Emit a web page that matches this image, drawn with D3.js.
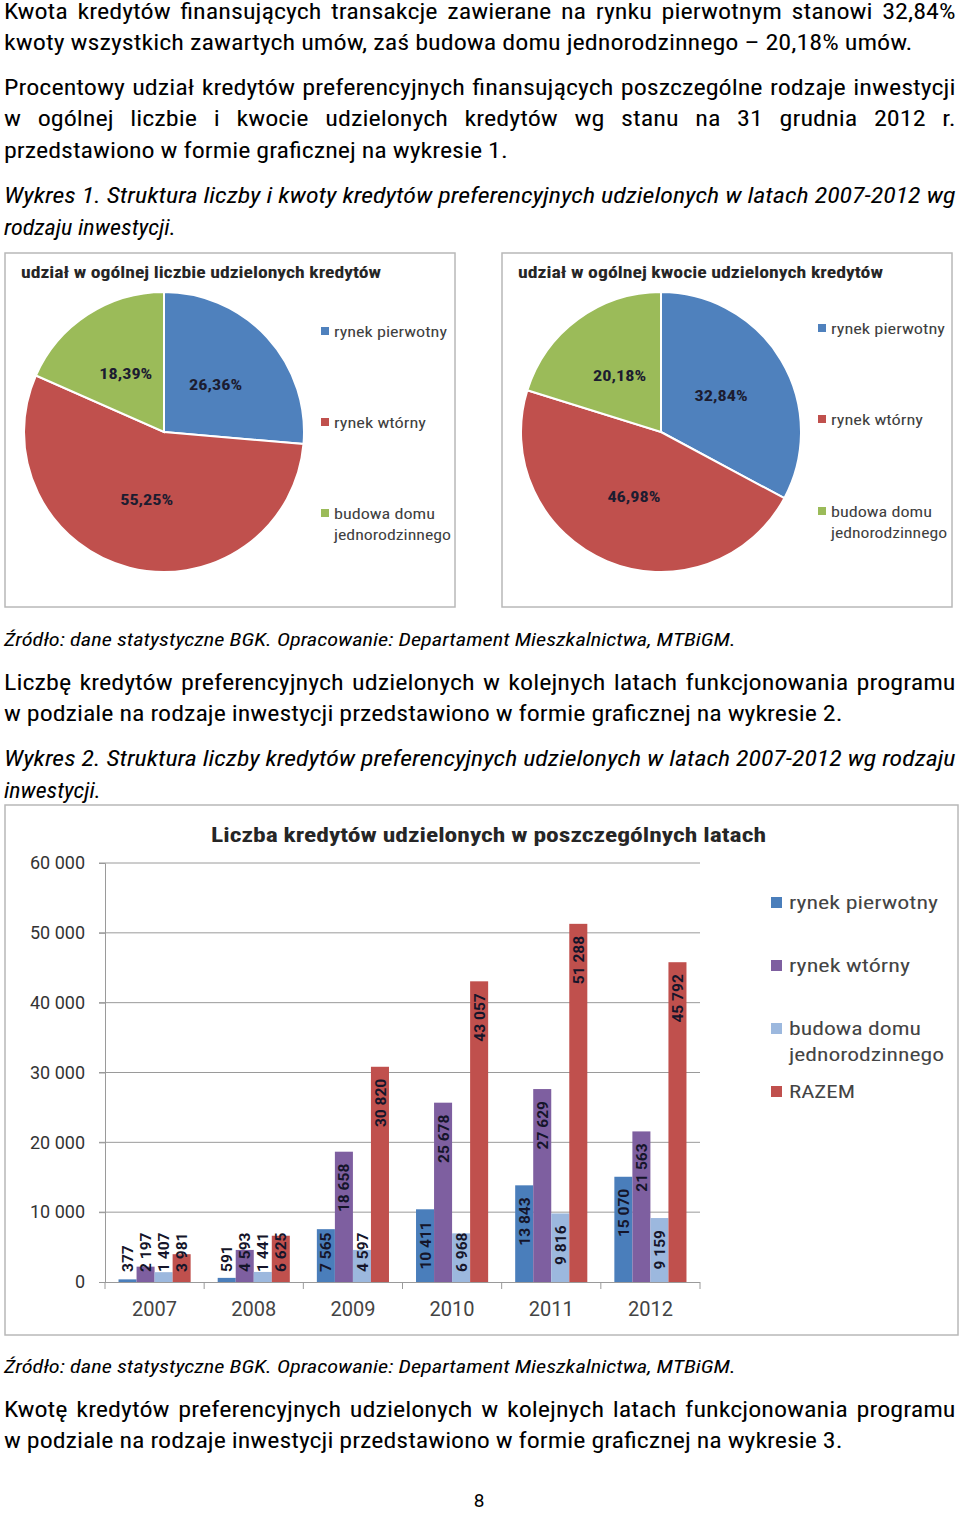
<!DOCTYPE html>
<html><head><meta charset="utf-8">
<script src="https://cdn.jsdelivr.net/npm/d3@7/dist/d3.min.js"></script>
<style>
body{margin:0;background:#fff;}
svg text{font-family:"Liberation Sans Narrow","Roboto Condensed",Roboto,"Noto Sans",sans-serif;}
</style></head>
<body>
<svg id="page" width="960" height="1513"></svg>
<script>
// ---------- DATA ----------
const pieCategories = ["rynek pierwotny", "rynek wtórny", "budowa domu jednorodzinnego"];
const pieCountShares = [26.36, 55.25, 18.39];
const pieAmountShares = [32.84, 46.98, 20.18];
const pieTitles = ["udział w ogólnej liczbie udzielonych kredytów", "udział w ogólnej kwocie udzielonych kredytów"];

const years = ["2007", "2008", "2009", "2010", "2011", "2012"];
const barSeries = ["rynek pierwotny", "rynek wtórny", "budowa domu jednorodzinnego", "RAZEM"];
const primaryMarket = [377, 591, 7565, 10411, 13843, 15070];
const secondaryMarket = [2197, 4593, 18658, 25678, 27629, 21563];
const houseBuilding = [1407, 1441, 4597, 6968, 9816, 9159];
const totalCount = [3981, 6625, 30820, 43057, 51288, 45792];
const yTicks = [0, 10000, 20000, 30000, 40000, 50000, 60000];
const barTitle = "Liczba kredytów udzielonych w poszczególnych latach";

const paragraphs = [
  ["Kwota kredytów finansujących transakcje zawierane na rynku pierwotnym stanowi 32,84%",
   "kwoty wszystkich zawartych umów, zaś budowa domu jednorodzinnego – 20,18% umów."],
  ["Procentowy udział kredytów preferencyjnych finansujących poszczególne rodzaje inwestycji",
   "w ogólnej liczbie i kwocie udzielonych kredytów wg stanu na 31 grudnia 2012 r.",
   "przedstawiono w formie graficznej na wykresie 1."],
  ["Wykres 1. Struktura liczby i kwoty kredytów preferencyjnych udzielonych w latach 2007-2012 wg",
   "rodzaju inwestycji."],
  ["Źródło: dane statystyczne BGK. Opracowanie: Departament Mieszkalnictwa, MTBiGM."],
  ["Liczbę kredytów preferencyjnych udzielonych w kolejnych latach funkcjonowania programu",
   "w podziale na rodzaje inwestycji przedstawiono w formie graficznej na wykresie 2."],
  ["Wykres 2. Struktura liczby kredytów preferencyjnych udzielonych w latach 2007-2012 wg rodzaju",
   "inwestycji."],
  ["Źródło: dane statystyczne BGK. Opracowanie: Departament Mieszkalnictwa, MTBiGM."],
  ["Kwotę kredytów preferencyjnych udzielonych w kolejnych latach funkcjonowania programu",
   "w podziale na rodzaje inwestycji przedstawiono w formie graficznej na wykresie 3."]
];
const pageNumber = "8";

// ---------- LAYOUT ----------
const svg = d3.select("#page");
const loc = d3.formatLocale({decimal:",", thousands:"\u00a0", grouping:[3], currency:["",""]});
const fmtNum = loc.format(",d");
const fmtPct = loc.format(".2f");

const paraLayout = [
  {y:[19,50], ends:[956,913], just:[1,0], size:22, italic:false},
  {y:[95,126,158], ends:[956,956,508], just:[1,1,0], size:22, italic:false},
  {y:[203,235], ends:[956,176], just:[1,0], size:22, italic:true},
  {y:[646], ends:[736], just:[0], size:18, italic:true},
  {y:[690,721], ends:[956,843], just:[1,0], size:22, italic:false},
  {y:[766,798], ends:[956,101], just:[1,0], size:22, italic:true},
  {y:[1373], ends:[736], just:[0], size:18, italic:true},
  {y:[1417,1448], ends:[956,843], just:[1,0], size:22, italic:false}
];
const X0 = 4;
// reference ratio from a non-justified regular line and an italic line
function natWidth(t, size, italic) {
  const el = svg.append("text").attr("font-size", size).attr("font-style", italic ? "italic" : "normal").text(t);
  const w = el.node().getComputedTextLength(); el.remove(); return w;
}
const ratioReg = (913 - X0) / natWidth(paragraphs[0][1], 22, false);
const ratioIt = (736 - X0) / natWidth(paragraphs[3][0], 18, true);

paragraphs.forEach((lines, pi) => {
  const L = paraLayout[pi];
  lines.forEach((t, li) => {
    const target = L.ends[li] - X0;
    const nat = natWidth(t, L.size, L.italic);
    const spaces = (t.match(/ /g) || []).length;
    let ratio = target / nat, ws = 0;
    if (L.just[li]) {
      const r = L.italic ? ratioIt : ratioReg;
      if (nat * r < target && spaces > 0) { ratio = r; ws = (target / r - nat) / spaces; }
    }
    svg.append("text").attr("transform", `translate(${X0},${L.y[li]}) scale(${ratio},1)`)
      .attr("font-size", L.size).attr("fill", "#000")
      .attr("font-style", L.italic ? "italic" : "normal")
      .attr("word-spacing", ws)
      .text(t);
  });
});
svg.append("text").attr("x", 479).attr("y", 1507).attr("text-anchor", "middle")
  .attr("font-size", 19).style("font-family", "Roboto,sans-serif").text(pageNumber);

// ---------- PIE CHARTS ----------
const pieColors = ["#4F81BD", "#C0504D", "#9BBB59"];
const pieBoxes = [
  {x:5, w:450, cx:164, title:pieTitles[0], tW:360, data:pieCountShares, legX:321,
   legY:[337,428,519], legW:[113,92,101,117]},
  {x:502, w:450, cx:661, title:pieTitles[1], tW:365, data:pieAmountShares, legX:818,
   legY:[334,425,517], legW:[114,92,101,116]}
];
const R = 140, cy = 432;
const pie = d3.pie().sort(null).value(d => d);
const arc = d3.arc().innerRadius(0).outerRadius(R);
pieBoxes.forEach(b => {
  const g = svg.append("g");
  g.append("rect").attr("x", b.x).attr("y", 253).attr("width", b.w).attr("height", 354)
    .attr("fill", "#fff").attr("stroke", "#b8b8b8").attr("stroke-width", 1.5);
  g.append("text").attr("x", b.x + 16).attr("y", 278).attr("font-size", 16.5)
    .attr("font-weight", "bold").attr("fill", "#262626")
    .attr("textLength", b.tW).attr("lengthAdjust", "spacingAndGlyphs").text(b.title);
  const pg = g.append("g").attr("transform", `translate(${b.cx},${cy})`);
  const arcs = pie(b.data);
  pg.selectAll("path").data(arcs).join("path").attr("d", arc)
    .attr("fill", (d, i) => pieColors[i]).attr("stroke", "#fff").attr("stroke-width", 2);
  pg.selectAll("text").data(arcs).join("text")
    .attr("transform", d => `translate(${arc.centroid(d)})`)
    .attr("text-anchor", "middle").attr("dy", "0.35em")
    .attr("font-size", 15).attr("font-weight", "bold").attr("fill", "#1c1c30")
    .attr("textLength", 53).attr("lengthAdjust", "spacingAndGlyphs")
    .text(d => fmtPct(d.data) + "%");
  const legLines = [["rynek pierwotny"], ["rynek wtórny"], ["budowa domu", "jednorodzinnego"]];
  let wi = 0;
  pieCategories.forEach((c, i) => {
    g.append("rect").attr("x", b.legX).attr("y", b.legY[i] - 10).attr("width", 8).attr("height", 8)
      .attr("fill", pieColors[i]);
    legLines[i].forEach((t, k) => {
      g.append("text").attr("x", b.legX + 13).attr("y", b.legY[i] + k * 21)
        .attr("font-size", 15).attr("fill", "#404040")
        .attr("textLength", b.legW[wi++]).attr("lengthAdjust", "spacingAndGlyphs").text(t);
    });
  });
});

// ---------- BAR CHART ----------
const barColors = ["#4A7EBB", "#7E5FA0", "#9CB8DE", "#C0504D"];
const seriesValues = [primaryMarket, secondaryMarket, houseBuilding, totalCount];
svg.append("rect").attr("x", 5).attr("y", 805).attr("width", 953).attr("height", 530)
  .attr("fill", "#fff").attr("stroke", "#b8b8b8").attr("stroke-width", 1.5);
svg.append("text").attr("x", 211).attr("y", 842).attr("font-size", 20.5).attr("font-weight", "bold")
  .attr("fill", "#262626").attr("textLength", 555).attr("lengthAdjust", "spacingAndGlyphs").text(barTitle);

const plot = {l:105, r:700, t:863, b:1282};
const y = d3.scaleLinear().domain([0, 60000]).range([plot.b, plot.t]);
const x0 = d3.scaleBand().domain(years).range([plot.l, plot.r]).paddingInner(0).paddingOuter(0);
const x1 = d3.scaleBand().domain(d3.range(4)).range([0, x0.bandwidth()]).paddingInner(0).paddingOuter(0.75);

const grid = svg.append("g");
grid.selectAll("line").data(yTicks.filter(t => t > 0)).join("line")
  .attr("x1", plot.l - 6).attr("x2", plot.r).attr("y1", d => y(d)).attr("y2", d => y(d))
  .attr("stroke", "#9a9a9a").attr("stroke-width", 1);
const yAxis = svg.append("g").attr("transform", `translate(${plot.l},0)`)
  .call(d3.axisLeft(y).tickValues(yTicks).tickFormat(fmtNum).tickSize(6).tickPadding(14));
yAxis.select(".domain").attr("stroke", "#9a9a9a");
yAxis.selectAll(".tick line").attr("stroke", "#9a9a9a");
yAxis.selectAll(".tick text").attr("font-size", 18).attr("fill", "#333")
  .style("font-family", "Roboto,'Noto Sans',sans-serif");

const groups = svg.append("g").selectAll("g").data(years).join("g")
  .attr("transform", d => `translate(${x0(d)},0)`);
groups.each(function(yr, yi) {
  const gg = d3.select(this);
  seriesValues.forEach((vals, si) => {
    const v = vals[yi];
    gg.append("rect").attr("x", x1(si)).attr("width", x1.bandwidth())
      .attr("y", y(v)).attr("height", y(0) - y(v)).attr("fill", barColors[si]);
  });
});

const xAxis = svg.append("g").attr("transform", `translate(0,${plot.b})`)
  .call(d3.axisBottom(x0).tickSize(0).tickPadding(20));
xAxis.select(".domain").attr("stroke", "#9a9a9a").attr("d", `M${plot.l - 6},0.5H${plot.r}`);
xAxis.selectAll(".tick text").attr("font-size", 20).attr("fill", "#444")
  .style("font-family", "Roboto,'Noto Sans',sans-serif");
svg.append("g").selectAll("line").data(years.concat(["end"])).join("line")
  .attr("x1", (d, i) => i < years.length ? x0(d) : plot.r)
  .attr("x2", (d, i) => i < years.length ? x0(d) : plot.r)
  .attr("y1", plot.b).attr("y2", plot.b + 7).attr("stroke", "#9a9a9a");

const labels = svg.append("g");
years.forEach((yr, yi) => {
  seriesValues.forEach((vals, si) => {
    const v = vals[yi];
    const cx = x0(yr) + x1(si) + x1.bandwidth() / 2;
    const t = labels.append("text").attr("font-size", 15.5).attr("font-weight", "bold")
      .attr("fill", "#15152a").attr("dy", "0.36em")
      .style("font-family", "Roboto,'Noto Sans',sans-serif").text(fmtNum(v));
    const len = t.node().getComputedTextLength();
    let startY = y(v) + 12 + len;
    if (startY > plot.b - 10) startY = plot.b - 10;
    t.attr("transform", `translate(${cx},${startY}) rotate(-90)`).attr("text-anchor", "start");
  });
});

const legY = [909, 972, 1035, 1098];
const legTexts = [["rynek pierwotny"], ["rynek wtórny"], ["budowa domu", "jednorodzinnego"], ["RAZEM"]];
const legW = [149, 121, 132, 155, 66];
let lw = 0;
barSeries.forEach((s, i) => {
  svg.append("rect").attr("x", 771).attr("y", legY[i] - 12).attr("width", 11).attr("height", 11)
    .attr("fill", barColors[i]);
  legTexts[i].forEach((t, k) => {
    svg.append("text").attr("x", 789).attr("y", legY[i] + k * 26).attr("font-size", 18.5)
      .attr("fill", "#444").attr("textLength", legW[lw++]).attr("lengthAdjust", "spacingAndGlyphs").text(t);
  });
});
</script>
</body></html>
